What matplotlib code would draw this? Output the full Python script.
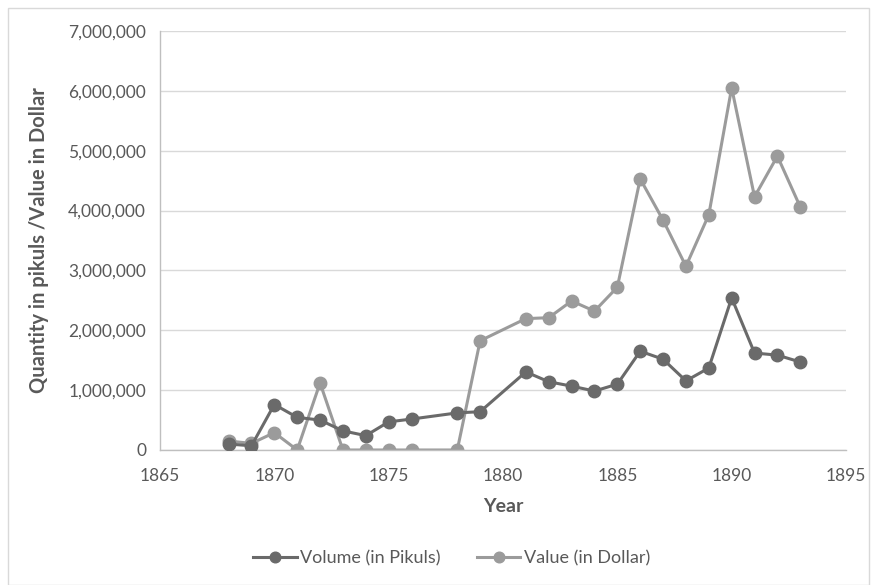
import matplotlib
matplotlib.use("Agg")
import matplotlib.pyplot as plt
from matplotlib.ticker import FuncFormatter, MultipleLocator
from matplotlib.patches import Rectangle

plt.rcParams['font.family'] = ['Lato', 'DejaVu Sans']

years = [1868, 1869, 1870, 1871, 1872, 1873, 1874, 1875, 1876, 1878, 1879,
         1881, 1882, 1883, 1884, 1885, 1886, 1887, 1888, 1889, 1890, 1891,
         1892, 1893]
volume_pikuls = [100000, 70000, 760000, 545000, 500000, 320000, 240000,
                 470000, 517000, 620000, 640000, 1305000, 1140000, 1067000,
                 985000, 1100000, 1650000, 1517000, 1155000, 1370000,
                 2540000, 1620000, 1585000, 1470000]
value_dollar = [150000, 110000, 290000, 0, 1120000, 0, 0, 0, 0, 0, 1825000,
                2195000, 2210000, 2490000, 2320000, 2720000, 4530000,
                3840000, 3070000, 3930000, 6050000, 4230000, 4910000,
                4060000]

dark = "#6a6a6a"
light = "#9b9b9b"
text_col = "#595959"

fig = plt.figure(figsize=(8.77, 5.85), dpi=100)
fig.patches.append(Rectangle((8 / 877, 0), 1 - 16 / 877, 1 - 8 / 585,
                             transform=fig.transFigure, fill=False,
                             edgecolor="#d9d9d9", linewidth=1.0))

ax = fig.add_axes([160 / 877, 135 / 585, 686 / 877, 419 / 585])

ax.plot(years, volume_pikuls, color=dark, linewidth=2.2, marker='o',
        markersize=9, label="Volume (in Pikuls)", zorder=3)
ax.plot(years, value_dollar, color=light, linewidth=2.2, marker='o',
        markersize=9, label="Value (in Dollar)", zorder=2)

ax.set_xlim(1865, 1895)
ax.set_ylim(0, 7000000)
ax.xaxis.set_major_locator(MultipleLocator(5))
ax.yaxis.set_major_locator(MultipleLocator(1000000))
ax.yaxis.set_major_formatter(FuncFormatter(lambda v, p: f"{int(v):,}"))

ax.grid(axis='y', color="#d9d9d9", linewidth=1.0, zorder=0)
ax.set_axisbelow(True)
for side in ('top', 'right'):
    ax.spines[side].set_visible(False)
for side in ('left', 'bottom'):
    ax.spines[side].set_color("#bfbfbf")
    ax.spines[side].set_linewidth(1.0)

ax.tick_params(axis='both', length=0, labelsize=12.5, labelcolor=text_col)
ax.tick_params(axis='x', pad=13)
ax.tick_params(axis='y', pad=10)

ax.set_xlabel("Year", fontsize=14, fontweight='bold', color=text_col,
              labelpad=10)
ax.set_ylabel("Quantity in pikuls /Value in Dollar", fontsize=14.5,
              fontweight='bold', color=text_col, labelpad=14)

leg = fig.legend(loc='center', bbox_to_anchor=(0.515, 27 / 585), ncol=2,
                 frameon=False, fontsize=13, handlelength=2.4,
                 columnspacing=2.0, handletextpad=0.2, markerscale=0.85)
for t in leg.get_texts():
    t.set_color(text_col)

fig.savefig("out.png", dpi=100)
